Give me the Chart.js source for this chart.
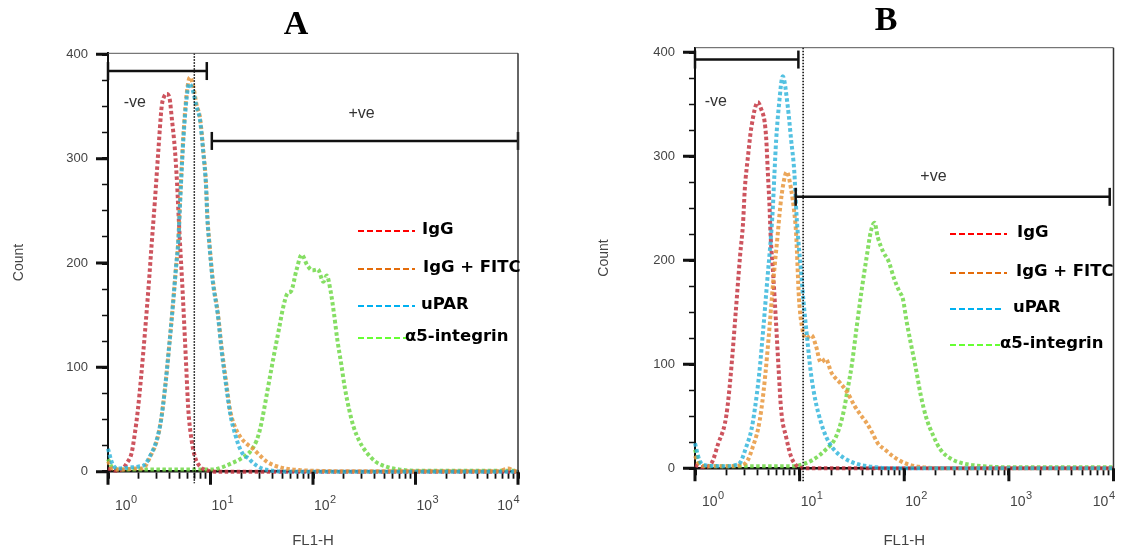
<!DOCTYPE html>
<html lang="en">
<head>
<meta charset="UTF-8">
<title>FL1-H histograms</title>
<script src="https://cdn.jsdelivr.net/npm/chart.js"></script>
<style>
  body { margin: 0; background: #fff; }
  #wrap { position: relative; width: 1125px; height: 556px; }
  canvas { position: absolute; top: 0; }
  #chartA { left: 0; }
  #chartB { left: 560px; }
</style>
</head>
<body>
<div id="wrap">
  <canvas id="chartA" width="560" height="556"></canvas>
  <canvas id="chartB" width="565" height="556"></canvas>
</div>
<script>
// legend order
const seriesNames = ['IgG', 'IgG + FITC', 'uPAR', 'α5-integrin'];
const decades = [1, 10, 100, 1000, 10000];
const decadeExp = ['0', '1', '2', '3', '4'];
const countLabels = [0, 100, 200, 300, 400];

// Panel A, points are [FL1-H, count]
const igA = [[1,3],[1.2,1],[1.36,2],[1.52,8],[1.7,18],[1.83,37],[1.95,58],[2.1,90],[2.3,135],[2.5,180],[2.67,219],[2.87,260],[3.1,308],[3.34,350],[3.55,360],[3.75,362],[4.0,357],[4.18,340],[4.5,308],[4.72,276],[4.88,246],[5.04,219],[5.3,180],[5.55,140],[5.8,100],[6.07,60],[6.5,32],[7.06,14],[7.9,5],[9.5,1],[12,0],[10000,0]];
const fitcA = [[1,10],[1.1,3],[1.4,2],[1.8,3],[2.1,3],[2.3,5],[2.57,14],[3.0,30],[3.3,50],[3.6,80],[3.95,120],[4.3,160],[4.6,195],[4.86,222],[5.0,250],[5.15,278],[5.45,324],[5.85,362],[6.3,378],[6.8,369],[7.3,352],[7.9,339],[8.5,308],[9.04,276],[9.33,244],[9.76,219],[10.5,185],[11.8,152],[12.8,120],[14.1,88],[15.6,58],[17.5,42],[20,32],[23,26],[26,22],[30,16],[35,10],[42,6],[54,3],[75,1.5],[200,0.5],[6500,0.5],[8000,3],[9500,0.5],[10000,0.5]];
const uparA = [[1,22],[1.1,8],[1.25,3],[1.6,4],[2.0,5],[2.3,7],[2.57,15],[3.0,31],[3.3,50],[3.6,80],[3.95,120],[4.3,160],[4.6,195],[4.86,222],[5.0,248],[5.15,275],[5.45,320],[5.85,358],[6.2,372],[6.7,366],[7.3,350],[7.9,337],[8.5,306],[9.04,274],[9.33,242],[9.76,217],[10.5,183],[11.8,150],[12.8,117],[14.1,85],[15.6,55],[17.5,35],[19.4,22],[21.5,15],[23.5,13],[25,10],[28,6],[32,3],[40,1],[60,0],[10000,0]];
const a5A = [[1,12],[1.1,4],[1.3,2],[2,2],[5,2],[8,2],[10.6,2],[12.8,4],[14.4,6],[16,8],[19.4,12],[24.3,19],[28.2,30],[30.3,40],[32.2,52],[36.3,80],[40.9,108],[46.2,135],[51.3,158],[56.4,171],[61.1,173],[68.9,193],[77.6,208],[87.7,198],[98.9,193],[111.6,194],[126,182],[136,188],[148,174],[160,152],[173,126],[188,104],[204,81],[226,59],[249,43],[281,30],[330,19],[403,10],[512,5],[706,2],[1000,1],[10000,1]];

// Panel B
const igB = [[1,3],[1.2,1],[1.44,5],[1.67,24],[1.93,43],[2.05,60],[2.24,100],[2.45,150],[2.7,205],[2.88,236],[2.99,268],[3.21,300],[3.46,328],[3.99,352],[4.3,345],[4.63,333],[4.8,316],[4.97,284],[5.16,251],[5.27,226],[5.6,185],[5.95,140],[6.3,95],[6.66,56],[7.43,30],[8.3,11],[9.25,3],[11,0],[10000,0]];
const fitcB = [[1,12],[1.1,4],[1.3,2],[2,2],[2.8,3],[3.2,8],[3.58,21],[3.99,37],[4.3,56],[4.7,90],[5.1,130],[5.6,180],[6.19,226],[6.52,251],[7.0,274],[7.53,285],[8.3,268],[8.91,245],[9.25,226],[9.86,163],[10.5,137],[11.5,125],[13,128],[14.3,118],[15.9,102],[17.8,105],[20.1,92],[24.4,82],[28.6,73],[33.5,60],[39.2,50],[44.1,43],[49.6,34],[55.9,24],[65.4,18],[79.6,11],[101,5],[138,1.5],[300,0],[10000,0]];
const uparB = [[1,24],[1.1,8],[1.25,3],[2,2],[2.4,3],[2.68,5],[3.1,21],[3.46,37],[3.72,56],[4.1,90],[4.5,135],[4.9,180],[5.35,226],[5.55,251],[5.75,284],[5.97,316],[6.33,348],[6.9,377],[7.7,348],[8.29,316],[8.91,284],[9.25,251],[9.6,226],[10.3,190],[10.9,160],[11.8,125],[12.8,92],[14.1,66],[15.9,45],[17.8,31],[20.9,19],[26.4,10],[36,4],[53.7,1],[80,0],[10000,0]];
const a5B = [[1,18],[1.1,5],[1.3,2],[3,2],[6,2],[8,2],[10,3],[13.3,8],[17.8,18],[22.2,30],[26,52],[29,78],[31.6,100],[35,135],[39,170],[44,205],[48,228],[52,236],[55.9,222],[63,208],[70.9,199],[79.6,183],[89.7,170],[97,163],[105,142],[114,123],[128,98],[144,70],[162,49],[190,31],[222,18],[271,10],[357,5],[572,2],[1000,1],[10000,1]];

// gates: FL1-H range and the count level the bar sits at
const negGateA = [1, 9.2], negGateAY = 384;
const posGateA = [10.3, 10000], posGateAY = 317;
const cutA = 6.95;
const negGateB = [1, 9.73], negGateBY = 393;
const posGateB = [9.17, 9200], posGateBY = 261;
const cutB = 10.8;

const FONT = '"Liberation Sans", Arial, sans-serif';
const curveColors = ['rgba(196,54,66,0.85)', 'rgba(232,150,60,0.85)', 'rgba(40,178,218,0.8)', 'rgba(112,216,72,0.85)'];
const legendColors = ['#ff0000', '#e46c0a', '#00b0f0', '#66ff33'];

const xTicks = [];
decades.slice(0, -1).forEach(d => { for (let m = 1; m < 10; m++) xTicks.push(d * m); });
xTicks.push(decades[decades.length - 1]);
const yTicks = [];
for (let v = 0; v <= 400; v += 25) yTicks.push(v);

const toXY = pts => pts.map(([x, y]) => ({x, y}));

function curve(pts, color) {
  return { data: toXY(pts), borderColor: color, borderWidth: 4, borderDash: [3.5, 2.5],
    pointRadius: 0, cubicInterpolationMode: 'monotone', clip: 5 };
}
function gate(range, level) {
  return { data: [{x: range[0], y: level}, {x: range[1], y: level}], borderColor: '#111', borderWidth: 2.5,
    pointStyle: 'line', pointRotation: 90, pointRadius: 9, pointBorderColor: '#111', pointBorderWidth: 2.5, clip: false };
}
function marker(x, top, bottom) {
  return { data: [{x, y: top}, {x, y: bottom}], borderColor: '#000', borderWidth: 1.5,
    borderDash: [1.5, 1.5], pointRadius: 0, clip: false };
}

function decorPlugin(p) {
  return {
    id: 'decor',
    afterDatasetsDraw(chart) {
      const {ctx, chartArea: a, scales: {x, y}} = chart;
      ctx.save();
      // top and right frame
      ctx.strokeStyle = '#555'; ctx.lineWidth = 1;
      ctx.beginPath(); ctx.moveTo(a.left, a.top); ctx.lineTo(a.right, a.top); ctx.stroke();
      ctx.strokeStyle = '#333'; ctx.lineWidth = 1.5;
      ctx.beginPath(); ctx.moveTo(a.right, a.top); ctx.lineTo(a.right, a.bottom); ctx.stroke();

      // long ticks for decades / hundreds
      ctx.strokeStyle = '#111'; ctx.lineWidth = 3;
      ctx.beginPath();
      decades.forEach(v => { const px = x.getPixelForValue(v); ctx.moveTo(px, a.bottom); ctx.lineTo(px, a.bottom + 13); });
      countLabels.forEach(v => { const py = y.getPixelForValue(v); ctx.moveTo(a.left - 12, py); ctx.lineTo(a.left, py); });
      ctx.stroke();

      // 10^n labels
      ctx.fillStyle = '#444';
      ctx.textAlign = 'left'; ctx.textBaseline = 'alphabetic';
      const base = a.bottom + 38;
      decades.forEach((v, i) => {
        const px = x.getPixelForValue(v);
        ctx.font = '14px ' + FONT;
        const wb = ctx.measureText('10').width;
        ctx.font = '11px ' + FONT;
        const we = ctx.measureText(decadeExp[i]).width;
        let x0 = px + 1;
        if (i === 0) x0 = px + 7;
        if (i === decades.length - 1) x0 = px + 1 - wb - we;
        ctx.font = '14px ' + FONT;
        ctx.fillText('10', x0, base);
        ctx.font = '11px ' + FONT;
        ctx.fillText(decadeExp[i], x0 + wb + 0.5, base - 7);
      });

      // gate names
      ctx.fillStyle = '#333'; ctx.font = '16px ' + FONT;
      ctx.textAlign = 'center'; ctx.textBaseline = 'middle';
      p.gateText.forEach(([t, gx, gy]) => ctx.fillText(t, x.getPixelForValue(gx), y.getPixelForValue(gy)));

      // hand-placed legend
      const L = p.legend;
      ctx.lineWidth = 2; ctx.setLineDash([6, 3]);
      seriesNames.forEach((name, i) => {
        ctx.strokeStyle = legendColors[i];
        ctx.beginPath(); ctx.moveTo(L.x0, L.y[i]); ctx.lineTo(L.x1[i], L.y[i]); ctx.stroke();
      });
      ctx.setLineDash([]);
      ctx.fillStyle = '#000'; ctx.font = 'bold 16.5px "DejaVu Sans", sans-serif';
      ctx.textAlign = 'left';
      seriesNames.forEach((name, i) => ctx.fillText(name, L.tx[i], L.y[i] - 1));

      // panel letter
      ctx.font = 'bold 34px "Liberation Serif", "Times New Roman", serif';
      ctx.textAlign = 'center'; ctx.textBaseline = 'alphabetic';
      ctx.fillText(p.letter, p.letterX, p.letterY);
      ctx.restore();
    }
  };
}

function buildPanel(canvasId, p) {
  return new Chart(document.getElementById(canvasId), {
    type: 'line',
    data: {
      datasets: [
        gate(p.negGate, p.negGateY),
        gate(p.posGate, p.posGateY),
        marker(p.cut, p.yMax, p.cutBelow),
        curve(p.series[2], curveColors[2]),
        curve(p.series[1], curveColors[1]),
        curve(p.series[0], curveColors[0]),
        curve(p.series[3], curveColors[3])
      ]
    },
    options: {
      responsive: false,
      animation: false,
      events: [],
      layout: { padding: { left: 0, top: p.top, right: p.right, bottom: 0 } },
      plugins: { legend: { display: false }, tooltip: { enabled: false } },
      scales: {
        x: {
          type: 'logarithmic', min: 1, max: 10000,
          afterBuildTicks: s => { s.ticks = xTicks.map(v => ({value: v})); },
          afterFit: s => { s.height = p.xHeight; },
          ticks: { display: false, autoSkip: false },
          grid: { drawOnChartArea: false, tickLength: 7, tickColor: '#111',
            tickWidth: c => (c.tick && decades.includes(c.tick.value)) ? 3 : 1.8 },
          border: { color: '#111', width: 2.5 },
          title: { display: true, text: 'FL1-H', color: '#444', font: { family: FONT, size: 15 },
            padding: { top: 0, bottom: 6 } }
        },
        y: {
          min: 0, max: p.yMax,
          afterBuildTicks: s => { s.ticks = yTicks.map(v => ({value: v})); },
          afterFit: s => { s.width = p.yWidth; },
          ticks: { autoSkip: false, padding: 14, color: '#444', font: { family: FONT, size: 13 },
            callback: v => countLabels.includes(v) ? String(v) : '' },
          grid: { drawOnChartArea: false, tickLength: 6, tickColor: '#111',
            tickWidth: c => (c.tick && countLabels.includes(c.tick.value)) ? 3 : 1.5 },
          border: { color: '#111', width: 2 },
          title: { display: true, text: 'Count', color: '#444', font: { family: FONT, size: 14 },
            padding: { top: p.countPad, bottom: 0 } }
        }
      }
    },
    plugins: [decorPlugin(p)]
  });
}

buildPanel('chartA', {
  series: [igA, fitcA, uparA, a5A],
  negGate: negGateA, negGateY: negGateAY, posGate: posGateA, posGateY: posGateAY,
  cut: cutA, cutBelow: -11, yMax: 401,
  top: 53.3, right: 42, yWidth: 108, xHeight: 84.3, countPad: 10.3,
  gateText: [['-ve', 1.83, 354], ['+ve', 298, 343]],
  legend: { x0: 358, x1: [415, 415, 415, 406], y: [231, 269, 306, 338], tx: [422, 423, 421, 405] },
  letter: 'A', letterX: 296, letterY: 34
});

buildPanel('chartB', {
  series: [igB, fitcB, uparB, a5B],
  negGate: negGateB, negGateY: negGateBY, posGate: posGateB, posGateY: posGateBY,
  cut: cutB, cutBelow: -13, yMax: 404.4,
  top: 47.7, right: 9, yWidth: 135, xHeight: 87.7, countPad: 35.6,
  gateText: [['-ve', 1.58, 353], ['+ve', 190, 280]],
  legend: { x0: 390, x1: [447, 447, 443, 440], y: [234, 273, 309, 345], tx: [457, 456, 453, 440] },
  letter: 'B', letterX: 326, letterY: 30
});
</script>
</body>
</html>
